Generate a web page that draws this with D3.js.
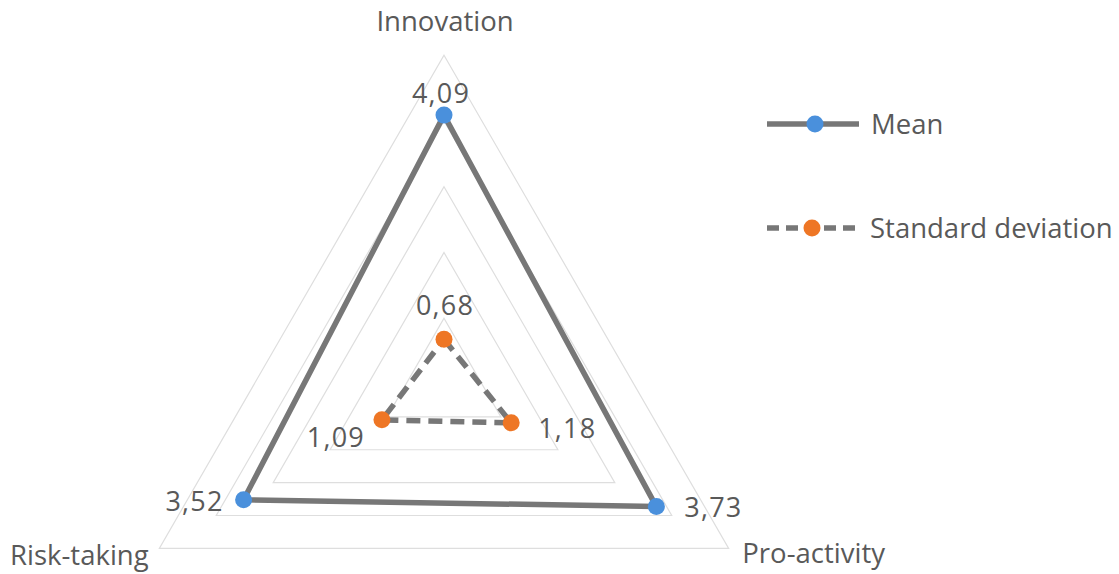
<!DOCTYPE html>
<html>
<head>
<meta charset="utf-8">
<script src="https://cdn.jsdelivr.net/npm/d3@7"></script>
<style>
  html, body { margin: 0; padding: 0; background: #fff; }
  svg { display: block; }
  text { font-family: "Open Sans", "Noto Sans", sans-serif; fill: #595959; }
</style>
</head>
<body>
<svg id="chart" width="1119" height="574"></svg>
<script>
// Entrepreneurial orientation dimensions
const categories = ["Innovation", "Pro-activity", "Risk-taking"];
const meanValues = [4.09, 3.73, 3.52];
const sdValues = [0.68, 1.18, 1.09];
const gridLevels = [1, 2, 3, 4, 5];
const seriesNames = ["Mean", "Standard deviation"];

const svg = d3.select("#chart");
const cx = 444, cy = 384;
const r = d3.scaleLinear().domain([0, 5]).range([0, 328.7]);
// Axis angles (screen coords): top, lower right, lower left
const angle = d3.scaleOrdinal().domain(categories).range([-90, 30, 150].map(a => a * Math.PI / 180));

const pt = (cat, v) => [cx + r(v) * Math.cos(angle(cat)), cy + r(v) * Math.sin(angle(cat))];

const fmt = d3.formatLocale({ decimal: ",", thousands: ".", grouping: [3], currency: ["", ""] }).format(".2f");

const colors = { line: "#777777", mean: "#4a90dc", sd: "#ee7625", grid: "#dedede" };

// Grid triangles
const gridLine = d3.line();
svg.append("g").selectAll("path")
  .data(gridLevels)
  .join("path")
  .attr("d", lv => gridLine(categories.map(c => pt(c, lv))) + "Z")
  .attr("fill", "none")
  .attr("stroke", colors.grid)
  .attr("stroke-width", 1.2);

// Category labels
const catOffset = { "Innovation": [1, -24], "Pro-activity": [85, 15], "Risk-taking": [-80, 17] };
svg.append("g").selectAll("text")
  .data(categories)
  .join("text")
  .attr("x", c => pt(c, 5)[0] + catOffset[c][0])
  .attr("y", c => pt(c, 5)[1] + catOffset[c][1])
  .attr("text-anchor", "middle")
  .attr("font-size", 27.5)
  .text(c => c);

// Series
const series = [
  { name: seriesNames[0], values: meanValues, dot: colors.mean, dash: null,
    labelOff: { "Innovation": [-3, -12, "middle"], "Pro-activity": [28, 10, "start"], "Risk-taking": [-20, 11, "end"] } },
  { name: seriesNames[1], values: sdValues, dot: colors.sd, dash: "14,8",
    labelOff: { "Innovation": [1, -24, "middle"], "Pro-activity": [27, 15, "start"], "Risk-taking": [-17, 27, "end"] } }
];

series.forEach(s => {
  const pts = categories.map((c, i) => pt(c, s.values[i]));
  svg.append("path")
    .attr("d", gridLine(pts) + "Z")
    .attr("fill", "none")
    .attr("stroke", colors.line)
    .attr("stroke-width", 5.5)
    .attr("stroke-linejoin", "round")
    .attr("stroke-dasharray", s.dash);
  svg.append("g").selectAll("circle")
    .data(pts)
    .join("circle")
    .attr("cx", d => d[0])
    .attr("cy", d => d[1])
    .attr("r", 8.5)
    .attr("fill", s.dot);
  svg.append("g").selectAll("text")
    .data(categories)
    .join("text")
    .attr("x", (c, i) => pts[i][0] + s.labelOff[c][0])
    .attr("y", (c, i) => pts[i][1] + s.labelOff[c][1])
    .attr("text-anchor", c => s.labelOff[c][2])
    .attr("font-size", 27)
    .attr("letter-spacing", 1.2)
    .text((c, i) => fmt(s.values[i]));
});

// Legend
const legend = svg.append("g");
series.forEach((s, i) => {
  const y = 124 + i * 104;
  const g = legend.append("g").attr("transform", `translate(767,${y})`);
  g.append("line")
    .attr("x1", 0).attr("x2", s.dash ? 95 : 92)
    .attr("y1", 0).attr("y2", 0)
    .attr("stroke", colors.line)
    .attr("stroke-width", 5.5)
    .attr("stroke-dasharray", s.dash ? "12,7" : null);
  g.append("circle").attr("cx", s.dash ? 45 : 48).attr("cy", 0).attr("r", 8.5).attr("fill", s.dot);
  g.append("text")
    .attr("x", s.dash ? 103 : 104)
    .attr("y", 10)
    .attr("font-size", 27.5)
    .text(s.name);
});
</script>
</body>
</html>
